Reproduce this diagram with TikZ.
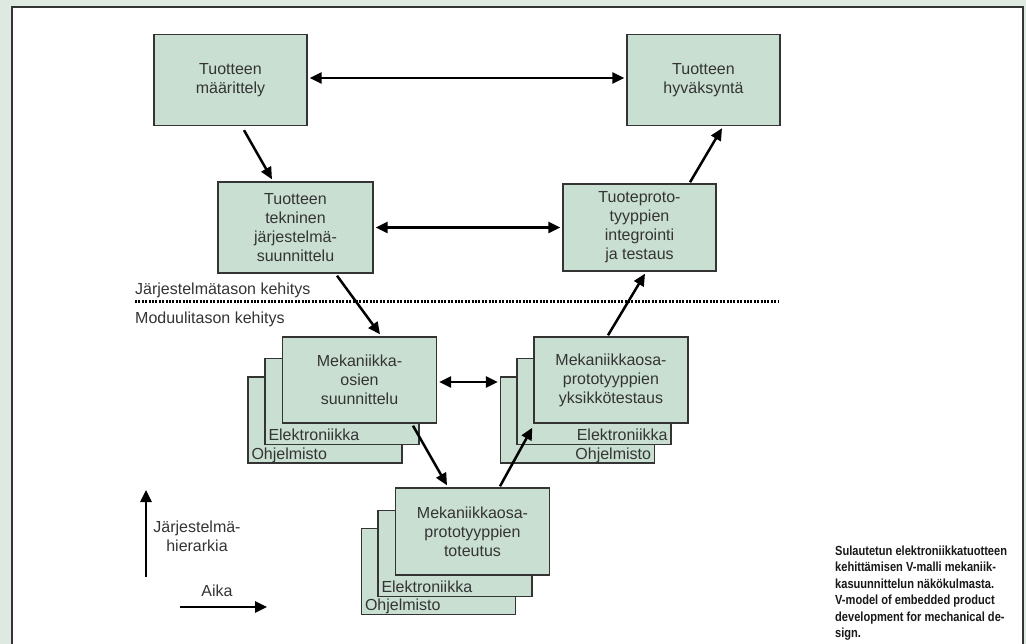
\documentclass[tikz,border=0pt]{standalone}
\usepackage{fontspec}
\setmainfont{Liberation Sans}
\usetikzlibrary{positioning,calc,arrows.meta}
\definecolor{boxgreen}{RGB}{201,223,209}
\definecolor{pagegreen}{RGB}{222,234,225}
\definecolor{inkgray}{RGB}{52,52,52}

\begin{document}
\begin{tikzpicture}[x=1pt,y=-1pt,
	phase/.style={draw=inkgray,line width=1.4pt,fill=boxgreen,text=inkgray,align=center,
		minimum width=153pt,minimum height=91pt,inner sep=0pt,font=\fontsize{16}{19}\selectfont},
	layer/.style={phase,minimum width=154pt,minimum height=86pt},
	tag/.style={text=inkgray,inner sep=0pt,font=\fontsize{16}{19}\selectfont},
	flow/.style={-{Triangle[length=12pt,width=11pt]},line width=2.5pt},
	both/.style={{Triangle[length=12pt,width=11pt]}-{Triangle[length=12pt,width=11pt]},line width=2.5pt},]
	\useasboundingbox (0,0) rectangle (1026,644);
	\fill[pagegreen] (0,0) rectangle (1026,644);
	\draw[line width=2pt,draw=inkgray,fill=white] (11.5,660) -- (11.5,7.5) -- (1022.5,7.5) -- (1022.5,660);

	% system level
	\node [phase] (spec) at (230.5,80) {Tuotteen\\määrittely};
	\node [phase] (accept) at (703.5,80) {Tuotteen\\hyväksyntä};
	\node [phase,minimum width=155pt] (sysd) at (295.5,227.5) {Tuotteen\\tekninen\\järjestelmä-\\suunnittelu};
	\node [phase,minimum height=87pt] (integ) at (639.5,227.5) {Tuoteproto-\\tyyppien\\integrointi\\ja testaus};

	\node [tag,anchor=base west] (syslbl) at (135,295) {Järjestelmätason kehitys};
	\node [tag,anchor=base west] (modlbl) at (135,324) {Moduulitason kehitys};
	\coordinate (sepl) at (135,302);
	\coordinate (sepr) at (778,302);
	\draw[line width=3pt,dash pattern=on 2pt off 1.4pt] (sepl) -- (sepr);

	% module level: design
	\node [layer] (sw1) at (325,420) {};
	\node [layer] (el1) at (342,401.5) {};
	\node [layer] (me1) at (359.5,380) {Mekaniikka-\\osien\\suunnittelu};
	\node [tag,anchor=base west] (el1t) at ($(el1.south west)+(4,-4.5)$) {Elektroniikka};
	\node [tag,anchor=base west] (sw1t) at ($(sw1.south west)+(4,-4.5)$) {Ohjelmisto};

	% module level: unit test
	\node [layer] (sw2) at (577.5,420) {};
	\node [layer] (el2) at (594,401.5) {};
	\node [layer] (me2) at (611,380) {Mekaniikkaosa-\\prototyyppien\\yksikkötestaus};
	\node [tag,anchor=base east] (el2t) at ($(el2.south east)+(-4,-4.5)$) {Elektroniikka};
	\node [tag,anchor=base east] (sw2t) at ($(sw2.south east)+(-4,-4.5)$) {Ohjelmisto};

	% module level: realisation
	\node [layer] (sw3) at (438.5,571.5) {};
	\node [layer] (el3) at (455,553.5) {};
	\node [layer,minimum height=87pt] (me3) at (472.5,531.5) {Mekaniikkaosa-\\prototyyppien\\toteutus};
	\node [tag,anchor=base west] (el3t) at ($(el3.south west)+(4,-4.5)$) {Elektroniikka};
	\node [tag,anchor=base west] (sw3t) at ($(sw3.south west)+(4,-4.5)$) {Ohjelmisto};

	\draw[both] ($(spec.east)+(2,-2)$) -- ($(accept.west)+(-2,-2)$);
	\draw[both] ($(sysd.east)+(2,0)$) -- ($(integ.west)+(-2,0)$);
	\draw[both] ($(me1.east)+(2,2)$) -- ($(me1.east -| sw2.west)+(-2,2)$);
	\draw[flow] ($(spec.south)+(13.5,4)$) -- ($(sysd.north)+(-23.5,-2)$);
	\draw[flow] ($(sysd.south)+(41.5,2)$) -- ($(me1.north)+(20.5,-2)$);
	\draw[flow] ($(me1.south)+(53.5,2)$) -- ($(me3.north)+(-25.5,-2)$);
	\draw[flow] ($(me3.north)+(27.5,-1)$) -- ($(me2.south west)+(-1,4)$);
	\draw[flow] ($(me2.north)+(-3,-1)$) -- ($(integ.south)+(5.5,2)$);
	\draw[flow] ($(integ.north)+(50.5,-1)$) -- ($(accept.south)+(18.5,2)$);

	% axes
	\coordinate (hlo) at (146,577);
	\coordinate (hhi) at (146,490);
	\coordinate (tlo) at (180,607);
	\coordinate (thi) at (267,607);
	\draw[flow] (hlo) -- (hhi);
	\draw[flow] (tlo) -- (thi);
	\node [tag,align=center] (hlbl) at (197,536) {Järjestelmä-\\hierarkia};
	\node [tag] (tlbl) at (217,591) {Aika};

	\node [anchor=north west,align=left,inner sep=0pt,text=black!90,xscale=0.84,transform shape,
		font=\bfseries\fontsize{13.2}{16.5}\selectfont] (capt) at (835,545.5)
		{Sulautetun elektroniikkatuotteen\\kehittämisen V-malli mekaniik-\\kasuunnittelun näkökulmasta.\\V-model of embedded product\\development for mechanical de-\\sign.};
\end{tikzpicture}
\end{document}
